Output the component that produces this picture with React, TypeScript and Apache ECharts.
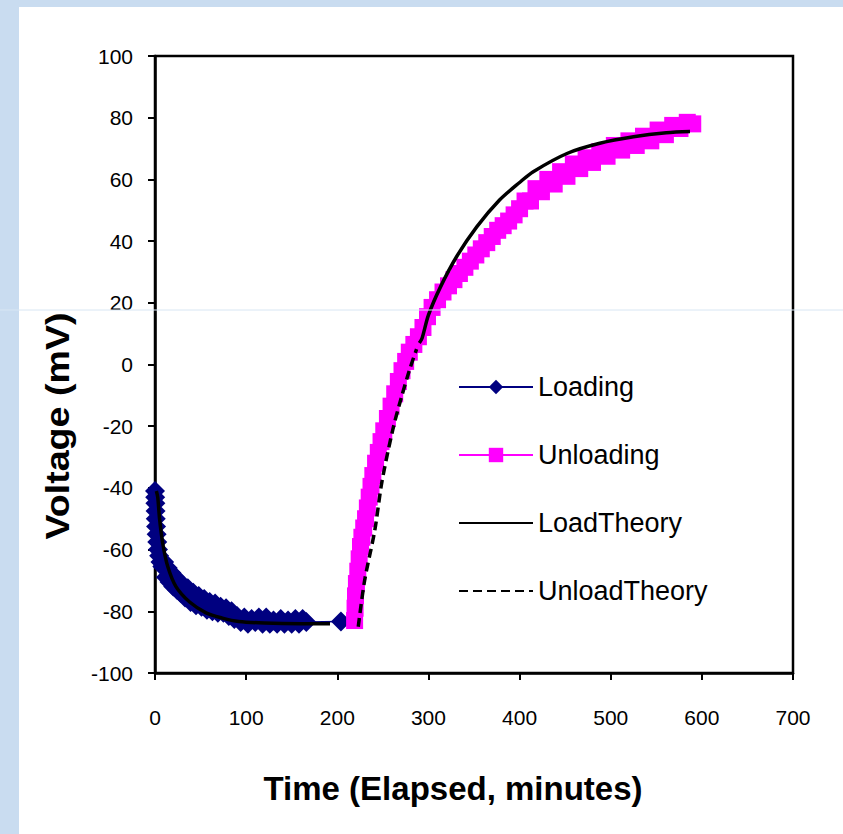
import React, { useEffect, useRef } from 'react';
import * as echarts from 'echarts';

// Time (minutes), Voltage (mV)
const loadingTime = [0, 0.2, 0.4, 0.6, 0.8, 1.2, 1.8, 2.5, 3.3, 4.5, 6, 8, 10, 12, 14, 16, 18, 20, 22, 24, 26, 28, 30, 33, 36, 39, 42, 45, 48, 51, 54, 57, 60, 63, 66, 69, 72, 75, 78, 81, 84, 87, 90, 94, 98, 102, 106, 110, 114, 118, 122, 126, 130, 134, 138, 142, 146, 150, 154, 158, 162, 166, 204];
const loadingVolt = [-41, -43, -45, -47.5, -50, -52.5, -55, -57.5, -60, -62, -64, -65.5, -64, -69, -66, -70.5, -67.5, -72, -69, -73, -70, -74, -71.5, -75.5, -72.5, -77, -74, -78, -75, -78.5, -76, -79.5, -77, -80, -77.5, -80.5, -78.5, -80.5, -79, -81.5, -80, -82.5, -81.5, -83.5, -82, -84, -82.5, -83.5, -82, -84, -82, -84, -83, -84, -82.5, -84, -83, -84, -82.5, -84, -82.5, -83.5, -83.3];

const unloadingTime = [219, 219.5, 220, 221, 222.5, 224, 225.5, 227, 229, 231, 233, 235, 237, 239, 242, 245, 248, 251, 255, 259, 263, 267, 271, 275, 279, 284, 289, 294, 299, 304, 310, 316, 322, 328, 334, 340, 346, 352, 358, 364, 370, 376, 382, 388, 394, 400, 406, 412, 418, 424, 431, 438, 445, 452, 459, 466, 473, 480, 488, 496, 504, 512, 520, 528, 536, 544, 552, 560, 568, 576, 584, 590];
const unloadingVolt = [-83, -79, -75, -71, -67, -63, -59, -56, -53, -50, -46.5, -43, -39.5, -36, -32, -28.5, -25, -21.5, -17.5, -13.5, -9.5, -5.5, -2, 1, 4, 6.5, 9, 12, 15.5, 18.5, 21, 23.5, 25.5, 27.5, 29.5, 31.5, 33.5, 35.5, 37.5, 39.5, 41.5, 43.5, 45, 46.5, 48.5, 50.5, 53, 53, 57, 56, 60, 58.5, 62.5, 61, 65, 63.5, 67, 65.5, 69, 67.5, 71, 69.5, 72.5, 71, 74, 72.5, 76, 74.5, 77.5, 76.5, 78.5, 78];

// LoadTheory: loading decay, then (after a break) the upper recovery curve
const loadTheoryTime = [1.5, 3, 5, 8.5, 14, 23, 38, 56, 74, 92, 120, 160, 192, 240, 290, 293, 300, 313, 331, 353, 378, 400, 415, 452, 488, 525, 561, 587];
const loadTheoryVolt: (number | string)[] = [-41, -43, -50, -58, -65.5, -72, -77, -80.5, -82.2, -83.3, -83.8, -84, -84, '-', 7, 8.5, 16, 25, 35, 44.6, 53.3, 59, 62.5, 68.4, 71.7, 73.8, 75.1, 75.5];

const unloadTheoryTime = [223, 230, 241, 249, 261, 270, 279, 287];
const unloadTheoryVolt = [-85, -70, -54, -38, -21, -11, -2, 5];

const xTicks = { min: 0, max: 700, interval: 100 };
const yTicks = { min: -100, max: 100, interval: 20 };

const zip = (a: number[], b: (number | string)[]) => a.map((v, i) => [v, b[i]]);

const FONT = "'Liberation Sans', Arial, sans-serif";

export default function App() {
  const ref = useRef<HTMLDivElement>(null);
  useEffect(() => {
    const chart = echarts.init(ref.current!, null, { renderer: 'svg' });
    chart.setOption({
      animation: false,
      backgroundColor: 'transparent',
      textStyle: { fontFamily: FONT },
      grid: {
        left: 155, right: 50, top: 56, bottom: 161,
        show: true, borderColor: '#000', borderWidth: 2.5, backgroundColor: 'transparent',
      },
      xAxis: {
        type: 'value', ...xTicks,
        axisLine: { show: true, onZero: false, lineStyle: { color: '#000', width: 2.5 } },
        axisTick: { show: true, length: 7, lineStyle: { color: '#000', width: 2 } },
        axisLabel: { fontSize: 21, color: '#000', margin: 34, fontFamily: FONT },
        splitLine: { show: false },
      },
      yAxis: {
        type: 'value', ...yTicks,
        axisLine: { show: true, onZero: false, lineStyle: { color: '#000', width: 2.5 } },
        axisTick: { show: true, length: 7, lineStyle: { color: '#000', width: 2 } },
        axisLabel: { fontSize: 21, color: '#000', margin: 22, fontFamily: FONT },
        splitLine: { show: false },
      },
      legend: {
        orient: 'vertical',
        left: 458, top: 373, padding: 0,
        itemWidth: 74, itemHeight: 18, itemGap: 40,
        textStyle: { fontSize: 27, color: '#000', fontFamily: FONT, lineHeight: 28 },
        data: [
          { name: 'Loading' },
          { name: 'Unloading' },
          { name: 'LoadTheory', itemStyle: { opacity: 0 } },
          { name: 'UnloadTheory', itemStyle: { opacity: 0 } },
        ],
      },
      graphic: [
        {
          type: 'text', x: 453, y: 788, silent: true,
          style: { text: 'Time (Elapsed, minutes)', font: `bold 33px ${FONT}`, fill: '#000', align: 'center', verticalAlign: 'middle' },
        },
        {
          type: 'text', x: 57, y: 426, rotation: Math.PI / 2, scaleX: 1.14, silent: true,
          style: { text: 'Voltage (mV)', font: `bold 33px ${FONT}`, fill: '#000', align: 'center', verticalAlign: 'middle' },
        },
        {
          type: 'line', silent: true, z: 100,
          shape: { x1: 0, y1: 310, x2: 843, y2: 310 },
          style: { stroke: '#d8e6f3', lineWidth: 1 },
        },
      ],
      series: [
        {
          name: 'Loading', type: 'line', data: zip(loadingTime, loadingVolt),
          symbol: 'diamond', symbolSize: 20,
          itemStyle: { color: '#000080' }, lineStyle: { color: '#000080', width: 1.5 },
          z: 2,
        },
        {
          name: 'Unloading', type: 'line', data: zip(unloadingTime, unloadingVolt),
          symbol: 'rect', symbolSize: 17,
          itemStyle: { color: '#ff00ff' }, lineStyle: { color: '#ff00ff', width: 1.5 },
          z: 3,
        },
        {
          name: 'LoadTheory', type: 'line', data: zip(loadTheoryTime, loadTheoryVolt),
          symbol: 'none', connectNulls: false, smooth: 0.3,
          itemStyle: { color: '#000' }, lineStyle: { color: '#000', width: 3.5 },
          z: 4,
        },
        {
          name: 'UnloadTheory', type: 'line', data: zip(unloadTheoryTime, unloadTheoryVolt),
          symbol: 'none', smooth: 0.3,
          itemStyle: { color: '#000' }, lineStyle: { color: '#000', width: 3.5, type: [9, 5] },
          z: 5,
        },
      ],
    });
    return () => chart.dispose();
  }, []);
  return (
    <div style={{ position: 'fixed', left: 0, top: 0, width: 843, height: 834, background: '#c9dcf0', overflow: 'hidden' }}>
      <div style={{ position: 'absolute', left: 19, top: 7, width: 824, height: 827, background: '#fff' }} />
      <div ref={ref} style={{ position: 'absolute', left: 0, top: 0, width: 843, height: 834 }} />
    </div>
  );
}
